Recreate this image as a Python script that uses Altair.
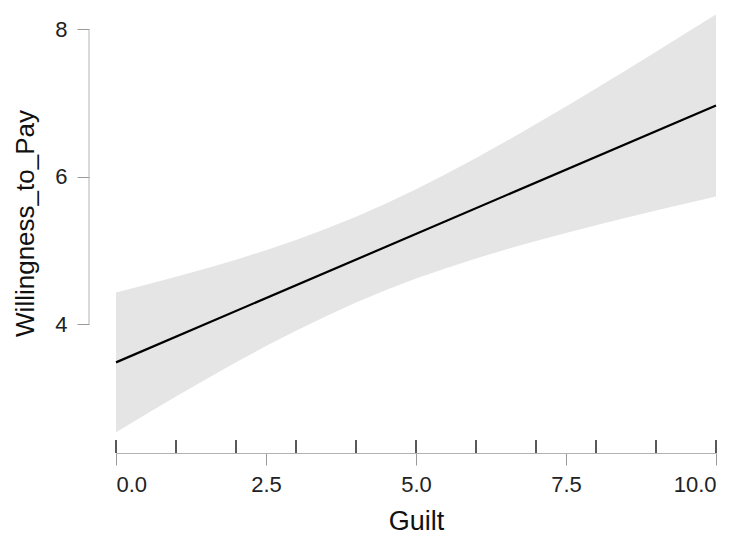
import altair as alt
import pandas as pd

# Regression line (Guilt -> Willingness_to_Pay)
line_x = [0, 10]
line_y = [3.485, 6.969]

# Confidence band
band_x = [0, 0.5, 1, 1.5, 2, 2.5, 3, 3.5, 4, 4.5, 5, 5.5, 6, 6.5, 7, 7.5, 8, 8.5, 9, 9.5, 10]
band_lo = [2.536, 2.781, 3.021, 3.257, 3.486, 3.706, 3.915, 4.112, 4.296, 4.465, 4.621,
           4.763, 4.894, 5.017, 5.132, 5.241, 5.345, 5.446, 5.545, 5.640, 5.734]
band_hi = [4.434, 4.537, 4.645, 4.758, 4.878, 5.006, 5.145, 5.296, 5.461, 5.640, 5.834,
           6.040, 6.257, 6.483, 6.716, 6.955, 7.199, 7.446, 7.697, 7.950, 8.204]

# Rug of observed Guilt values
rug_x = [0, 1, 2, 3, 4, 5, 6, 7, 8, 9, 10]

x_ticks = [0, 2.5, 5, 7.5, 10]
y_ticks = [4, 6, 8]

FONT = "Liberation Sans"
AXIS_GRAY = "#b3b3b3"

band_df = pd.DataFrame({"Guilt": band_x, "lo": band_lo, "hi": band_hi})
line_df = pd.DataFrame({"Guilt": line_x, "WTP": line_y})
rug_df = pd.DataFrame({"Guilt": rug_x})

xscale = alt.Scale(domain=[0, 10], nice=False, zero=False)
yscale = alt.Scale(domain=[2.5, 8.25], nice=False, zero=False)

xaxis = alt.Axis(
    values=x_ticks, format=".1f", offset=18, tickSize=12, tickColor="#999999",
    domainColor=AXIS_GRAY, domainWidth=1, grid=False,
    labelFont=FONT, labelFontSize=22, labelColor="#222222", labelPadding=9,
    title="Guilt", titleFont=FONT, titleFontSize=27, titleFontWeight="normal",
    titleColor="#111111", titleBaseline="alphabetic", titleY=76,
)
yaxis = alt.Axis(
    values=y_ticks, format="d", offset=27, tickSize=12, tickColor="#999999",
    domain=False, grid=False,
    labelFont=FONT, labelFontSize=22, labelColor="#222222", labelPadding=10,
    title="Willingness_to_Pay", titleFont=FONT, titleFontSize=26,
    titleFontWeight="normal", titleColor="#111111", titleBaseline="alphabetic",
    titleX=-56,
)

band = alt.Chart(band_df).mark_area(color="#e5e5e5", opacity=1).encode(
    x=alt.X("Guilt:Q", scale=xscale, axis=xaxis),
    y=alt.Y("lo:Q", scale=yscale, axis=yaxis),
    y2="hi:Q",
)

line = alt.Chart(line_df).mark_line(color="#000000", strokeWidth=2.2).encode(
    x=alt.X("Guilt:Q", scale=xscale),
    y=alt.Y("WTP:Q", scale=yscale),
)

rug = alt.Chart(rug_df).mark_rule(color="#222222", strokeWidth=1.5).encode(
    x=alt.X("Guilt:Q", scale=xscale),
    y=alt.value(429),
    y2=alt.value(442),
)

ydomain = alt.Chart(pd.DataFrame({"a": [4], "b": [8]})).mark_rule(
    color=AXIS_GRAY, strokeWidth=1
).encode(
    x=alt.value(-27),
    y=alt.Y("a:Q", scale=yscale),
    y2="b:Q",
)

chart = alt.layer(band, line, rug, ydomain).properties(
    width=600,
    height=424,
    background="white",
    autosize=alt.AutoSizeParams(type="none"),
    padding={"left": 108, "top": 3, "right": 22, "bottom": 99},
).configure_view(strokeWidth=0, stroke=None)

chart.save("out.html", embed_options={"renderer": "svg", "actions": False})
